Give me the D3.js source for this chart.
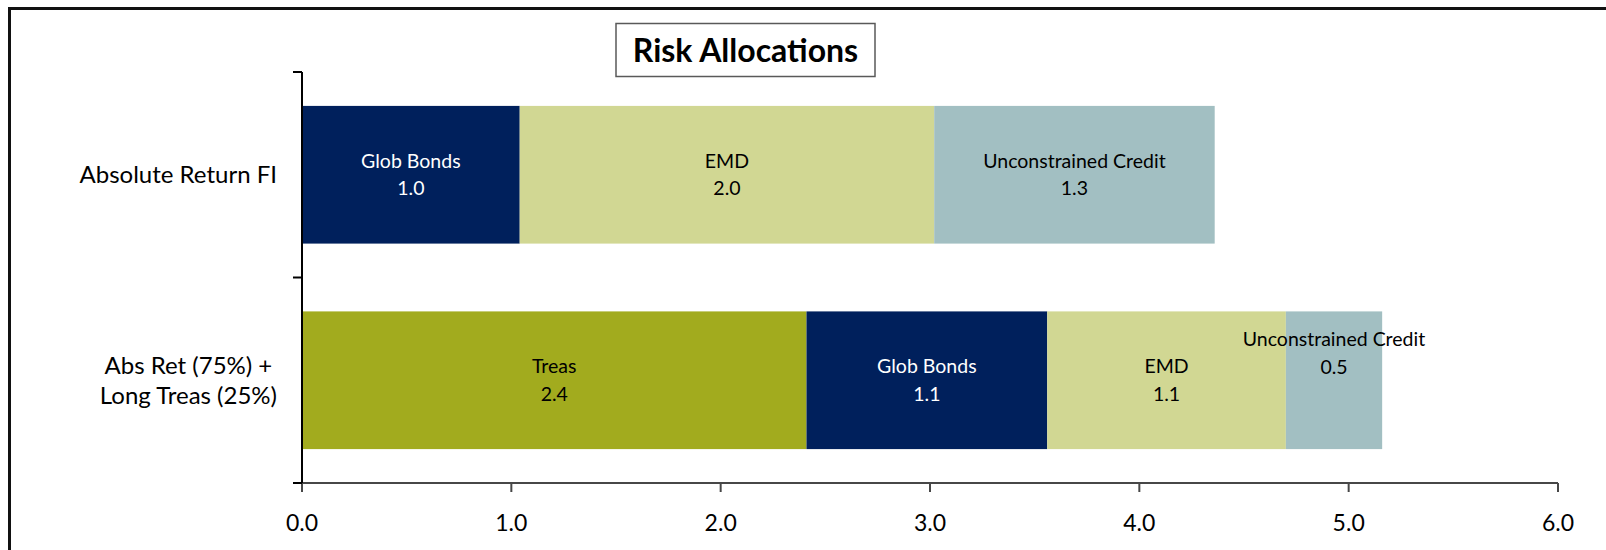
<!DOCTYPE html>
<html>
<head>
<meta charset="utf-8">
<script src="https://cdn.jsdelivr.net/npm/d3@7/dist/d3.min.js"></script>
<style>
  body { margin: 0; background: #fff; }
  svg { display: block; font-family: Lato, "Open Sans", sans-serif; }
</style>
</head>
<body>
<svg width="1606" height="550"></svg>
<script>
const svg = d3.select("svg");
const width = +svg.attr("width");
const height = +svg.attr("height");

// ====== Data ======
const categories = ["Absolute Return FI", "Abs Ret (75%) +\nLong Treas (25%)"];
const series = ["Treas", "Glob Bonds", "EMD", "Unconstrained Credit"];
const treasValues = [0, 2.41];
const globBondsValues = [1.04, 1.15];
const emdValues = [1.98, 1.14];
const creditValues = [1.34, 0.46];
const xTicks = [0, 1, 2, 3, 4, 5, 6];

const colors = {
    "Treas": "#a2ab1e",
    "Glob Bonds": "#00205c",
    "EMD": "#d1d793",
    "Unconstrained Credit": "#a2bfc2"
};
const labelColors = {
    "Treas": "#000",
    "Glob Bonds": "#fff",
    "EMD": "#000",
    "Unconstrained Credit": "#000"
};

const rows = categories.map(function(c, i) {
    return {
        category: c,
        "Treas": treasValues[i],
        "Glob Bonds": globBondsValues[i],
        "EMD": emdValues[i],
        "Unconstrained Credit": creditValues[i]
    };
});

const stacked = d3.stack().keys(series)(rows);

// ====== Layout ======
const margin = {left: 302, right: 48, top: 72, bottom: 67};

const x = d3.scaleLinear()
    .domain([0, 6])
    .range([margin.left, width - margin.right]);

const y = d3.scaleBand()
    .domain(categories)
    .range([margin.top, height - margin.bottom])
    .paddingInner(0.33)
    .paddingOuter(0.165);

// outer chart frame (runs off the right/bottom edges)
svg.append("rect")
    .attr("x", 9.5)
    .attr("y", 8.5)
    .attr("width", width + 100)
    .attr("height", height + 100)
    .attr("fill", "none")
    .attr("stroke", "#111")
    .attr("stroke-width", 3);

// ====== Bars ======
const layers = svg.append("g")
    .selectAll("g")
    .data(stacked)
    .enter().append("g")
        .attr("fill", function(d) { return colors[d.key]; });

layers.selectAll("rect")
    .data(function(d) { return d.filter(function(s) { return s[1] - s[0] > 0; }); })
    .enter().append("rect")
        .attr("x", function(d) { return x(d[0]); })
        .attr("y", function(d) { return y(d.data.category); })
        .attr("width", function(d) { return x(d[1]) - x(d[0]); })
        .attr("height", y.bandwidth());

// data labels: series name + value, centered
const labelG = svg.append("g")
    .attr("font-size", 19.5)
    .attr("text-anchor", "middle");

stacked.forEach(function(layer) {
    layer.forEach(function(d, i) {
        const v = d[1] - d[0];
        if (v <= 0) return;
        const cx = (x(d[0]) + x(d[1])) / 2;
        let cy = y(d.data.category) + y.bandwidth() / 2;
        // the small credit slice's label was nudged up in the original
        if (layer.key === "Unconstrained Credit" && i === 1) cy -= 27;
        const t = labelG.append("text")
            .attr("fill", labelColors[layer.key])
            .attr("x", cx)
            .attr("y", cy);
        t.append("tspan").attr("x", cx).attr("dy", "-0.35em").text(layer.key);
        t.append("tspan").attr("x", cx).attr("dy", "1.4em").text(d3.format(".1f")(v));
    });
});

// ====== Axes ======
const xAxis = svg.append("g")
    .attr("transform", "translate(0," + (height - margin.bottom) + ")");
xAxis.append("line")
    .attr("x1", margin.left - 8)
    .attr("x2", x(6))
    .attr("stroke", "#474747")
    .attr("stroke-width", 2);
xAxis.selectAll(".tick")
    .data(xTicks)
    .enter().append("line")
        .attr("x1", function(d) { return x(d); })
        .attr("x2", function(d) { return x(d); })
        .attr("y1", 0)
        .attr("y2", 9)
        .attr("stroke", "#474747")
        .attr("stroke-width", 2);
xAxis.selectAll("text")
    .data(xTicks)
    .enter().append("text")
        .attr("x", function(d) { return x(d); })
        .attr("y", 48)
        .attr("text-anchor", "middle")
        .attr("font-size", 23)
        .attr("fill", "#000")
        .text(function(d) { return d3.format(".1f")(d); });

const yAxis = svg.append("g");
yAxis.append("line")
    .attr("x1", margin.left)
    .attr("x2", margin.left)
    .attr("y1", margin.top)
    .attr("y2", height - margin.bottom)
    .attr("stroke", "#000")
    .attr("stroke-width", 2);
const yTicks = [margin.top, margin.top + (height - margin.top - margin.bottom) / 2, height - margin.bottom];
yAxis.selectAll(".tick")
    .data(yTicks)
    .enter().append("line")
        .attr("x1", margin.left - 9)
        .attr("x2", margin.left)
        .attr("y1", function(d) { return d; })
        .attr("y2", function(d) { return d; })
        .attr("stroke", "#000")
        .attr("stroke-width", 2);

// category labels: block right-aligned, lines centered within it
categories.forEach(function(c) {
    const lines = c.split("\n");
    const g = yAxis.append("g").attr("font-size", 24).attr("fill", "#000");
    const texts = lines.map(function(l) { return g.append("text").text(l); });
    const maxW = d3.max(texts, function(t) { return t.node().getComputedTextLength(); });
    const right = margin.left - 25;
    const cy = y(c) + y.bandwidth() / 2;
    const lineH = 30;
    texts.forEach(function(t, i) {
        t.attr("x", right - maxW / 2)
            .attr("y", cy + (i - (lines.length - 1) / 2) * lineH)
            .attr("dy", "0.35em")
            .attr("text-anchor", "middle");
    });
});

// ====== Title ======
const titleG = svg.append("g");
titleG.append("rect")
    .attr("x", 616)
    .attr("y", 23.5)
    .attr("width", 259)
    .attr("height", 53)
    .attr("fill", "#fff")
    .attr("stroke", "#595959")
    .attr("stroke-width", 1.5);
titleG.append("text")
    .attr("x", 745.5)
    .attr("y", 51)
    .attr("dy", "0.35em")
    .attr("text-anchor", "middle")
    .attr("font-size", 32)
    .attr("font-weight", "bold")
    .text("Risk Allocations");
</script>
</body>
</html>
